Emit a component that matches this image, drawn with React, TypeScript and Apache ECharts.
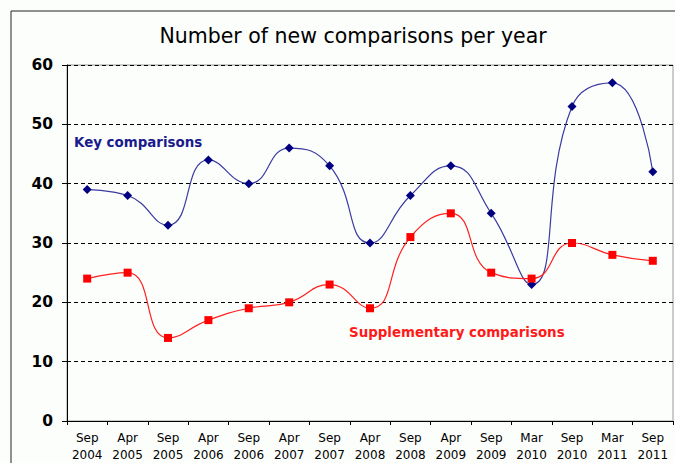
import React, { useEffect, useRef } from "react";
import * as echarts from "echarts";

const categories = [
  "Sep\n2004", "Apr\n2005", "Sep\n2005", "Apr\n2006", "Sep\n2006",
  "Apr\n2007", "Sep\n2007", "Apr\n2008", "Sep\n2008", "Apr\n2009",
  "Sep\n2009", "Mar\n2010", "Sep\n2010", "Mar\n2011", "Sep\n2011",
];
const keyComparisons = [39, 38, 33, 44, 40, 46, 43, 30, 38, 43, 35, 23, 53, 57, 42];
const supplementaryComparisons = [24, 25, 14, 17, 19, 20, 23, 19, 31, 35, 25, 24, 30, 28, 27];
const yTicks = [0, 10, 20, 30, 40, 50, 60];

export default function App() {
  const ref = useRef<HTMLDivElement>(null);
  useEffect(() => {
    if (!ref.current) return;
    const chart = echarts.init(ref.current, undefined, { renderer: "svg" });
    chart.setOption({
      animation: false,
      backgroundColor: "#fcfefc",
      title: {
        text: "Number of new comparisons per year",
        left: 348,
        top: 20,
        textAlign: "center",
        textStyle: { fontFamily: "DejaVu Sans", fontWeight: "normal", fontSize: 20.5, color: "#000" },
      },
      graphic: [
        {
          type: "rect",
          shape: { x: 11, y: 11, width: 700, height: 480 },
          style: { fill: "none", stroke: "#222", lineWidth: 1 },
          silent: true,
          z: -1,
        },
        {
          type: "text",
          left: 74,
          top: 136,
          style: { text: "Key comparisons", fill: "#1a1a8c", font: "bold 13.4px DejaVu Sans" },
        },
        {
          type: "text",
          left: 349,
          top: 326,
          style: { text: "Supplementary comparisons", fill: "#ff1a1a", font: "bold 13.4px DejaVu Sans" },
        },
      ],
      grid: {
        left: 67,
        top: 65,
        right: 2,
        bottom: 42,
        show: true,
        borderColor: "#999",
        borderWidth: 1,
        backgroundColor: "transparent",
      },
      xAxis: {
        type: "category",
        data: categories,
        boundaryGap: true,
        axisLine: { lineStyle: { color: "#000", width: 1 } },
        axisTick: { show: true, alignWithLabel: false, length: 4, lineStyle: { color: "#000" } },
        axisLabel: {
          interval: 0,
          fontFamily: "DejaVu Sans",
          fontSize: 12,
          color: "#000",
          lineHeight: 17,
          margin: 8,
        },
      },
      yAxis: {
        type: "value",
        min: yTicks[0],
        max: yTicks[yTicks.length - 1],
        interval: 10,
        axisLine: { show: true, lineStyle: { color: "#000", width: 1 } },
        axisTick: { show: true, length: 5, lineStyle: { color: "#000" } },
        axisLabel: {
          fontFamily: "DejaVu Sans",
          fontWeight: "bold",
          fontSize: 15.5,
          color: "#000",
          margin: 14,
        },
        splitLine: { show: true, lineStyle: { color: "#000", type: [4, 3], width: 1 } },
      },
      series: [
        {
          name: "Key comparisons",
          type: "line",
          data: keyComparisons,
          smooth: 0.5,
          symbol: "diamond",
          symbolSize: 9,
          itemStyle: { color: "#000080" },
          lineStyle: { color: "#3a3aa0", width: 1.2 },
          z: 3,
        },
        {
          name: "Supplementary comparisons",
          type: "line",
          data: supplementaryComparisons,
          smooth: 0.5,
          symbol: "rect",
          symbolSize: 8,
          itemStyle: { color: "#ff0000" },
          lineStyle: { color: "#ff2020", width: 1.2 },
          z: 3,
        },
      ],
    });
    return () => chart.dispose();
  }, []);
  return (
    <div
      ref={ref}
      style={{ position: "fixed", left: 0, top: 0, width: 675, height: 463 }}
    />
  );
}
